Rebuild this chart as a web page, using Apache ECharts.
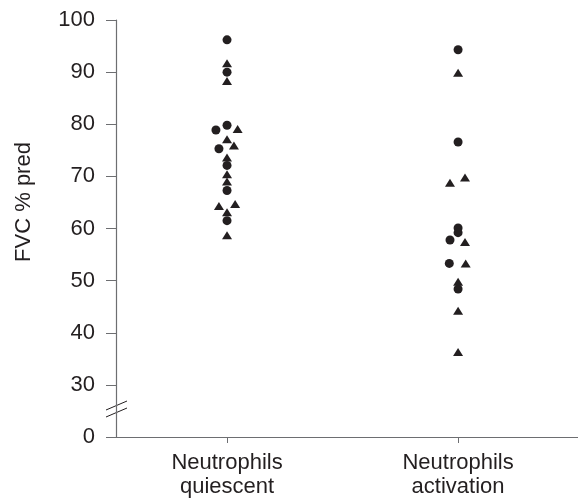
<!DOCTYPE html>
<html>
<head>
<meta charset="utf-8">
<script src="https://cdn.jsdelivr.net/npm/echarts@6/dist/echarts.min.js"></script>
<style>
  html, body { margin: 0; padding: 0; background: #fff; }
  #chart { width: 578px; height: 501px; }
</style>
</head>
<body>
<div id="chart"></div>
<script>
  // groups on the x axis
  const categories = ['Neutrophils\nquiescent', 'Neutrophils\nactivation'];
  // y tick labels (axis is broken between 0 and 30)
  const tickLabels = ['0', '30', '40', '50', '60', '70', '80', '90', '100'];

  // FVC % pred; jitter = small sideways shift within a group
  const quiescentCircle = [96.2, 90.0, 79.8, 78.9, 75.3, 72.1, 67.3, 61.5];
  const quiescentCircleJitter = [0, 0, 0, -0.048, -0.035, 0, 0, 0];
  const quiescentTriangle = [91.7, 88.3, 79.1, 77.1, 75.9, 73.6, 70.4, 69.0, 64.3, 64.7, 63.1, 58.7];
  const quiescentTriangleJitter = [0, 0, 0.046, 0, 0.03, 0, 0, 0, -0.035, 0.035, 0, 0];

  const activationCircle = [94.3, 76.6, 60.1, 59.2, 57.8, 53.3, 48.4];
  const activationCircleJitter = [0, 0, 0, 0, -0.035, -0.038, 0];
  const activationTriangle = [89.9, 69.8, 68.8, 57.4, 53.3, 49.8, 44.2, 36.3];
  const activationTriangleJitter = [0, 0.03, -0.035, 0.03, 0.033, 0, 0, 0];

  // values >= 30 sit 20 units lower on the drawn axis, so the 0..30 gap takes one step
  function toAxis(v) { return v >= 30 ? v - 20 : v / 3; }

  function points(groupIndex, values, jitter) {
    return values.map((v, i) => [groupIndex + jitter[i], toAxis(v)]);
  }

  const font = '"Liberation Sans", Arial, sans-serif';
  const ink = '#231f20';
  const axisGrey = '#6d6e71';

  const myChart = echarts.init(document.getElementById('chart'));

  const circleStyle = { symbol: 'circle', symbolSize: 9, itemStyle: { color: ink, opacity: 1 } };
  const triangleStyle = { symbol: 'triangle', symbolSize: [10, 8], itemStyle: { color: ink, opacity: 1 } };

  const option = {
    animation: false,
    grid: { left: 116, right: 0, top: 20, bottom: 64 },
    xAxis: {
      type: 'value',
      min: -0.4805,
      max: 1.519,
      splitLine: { show: false },
      axisLine: { onZero: false, lineStyle: { color: axisGrey, width: 1.2 } },
      axisTick: { show: true, customValues: [0, 1], length: 6, lineStyle: { color: axisGrey } },
      axisLabel: {
        customValues: [0, 1],
        formatter: v => categories[Math.round(v)],
        color: ink, fontFamily: font, fontSize: 22, lineHeight: 24, margin: 14
      }
    },
    yAxis: {
      type: 'value',
      min: 0,
      max: 80,
      interval: 10,
      splitLine: { show: false },
      axisLine: { show: true, onZero: false, lineStyle: { color: axisGrey, width: 1.2 } },
      axisTick: { show: true, length: 10, lineStyle: { color: axisGrey } },
      axisLabel: {
        formatter: v => tickLabels[Math.round(v / 10)],
        color: ink, fontFamily: font, fontSize: 22, margin: 21
      }
    },
    graphic: [
      {
        type: 'text',
        x: 24, y: 202,
        rotation: Math.PI / 2,
        style: { text: 'FVC % pred', fill: ink, font: '22px ' + font, align: 'center', verticalAlign: 'middle' }
      },
      { type: 'line', shape: { x1: 106, y1: 410, x2: 127, y2: 401 }, style: { stroke: ink, lineWidth: 1 } },
      { type: 'line', shape: { x1: 106, y1: 417, x2: 127, y2: 408 }, style: { stroke: ink, lineWidth: 1 } }
    ],
    series: [
      Object.assign({ type: 'scatter', name: 'quiescent circle', data: points(0, quiescentCircle, quiescentCircleJitter) }, circleStyle),
      Object.assign({ type: 'scatter', name: 'quiescent triangle', data: points(0, quiescentTriangle, quiescentTriangleJitter) }, triangleStyle),
      Object.assign({ type: 'scatter', name: 'activation circle', data: points(1, activationCircle, activationCircleJitter) }, circleStyle),
      Object.assign({ type: 'scatter', name: 'activation triangle', data: points(1, activationTriangle, activationTriangleJitter) }, triangleStyle)
    ]
  };
  myChart.setOption(option);
</script>
</body>
</html>
